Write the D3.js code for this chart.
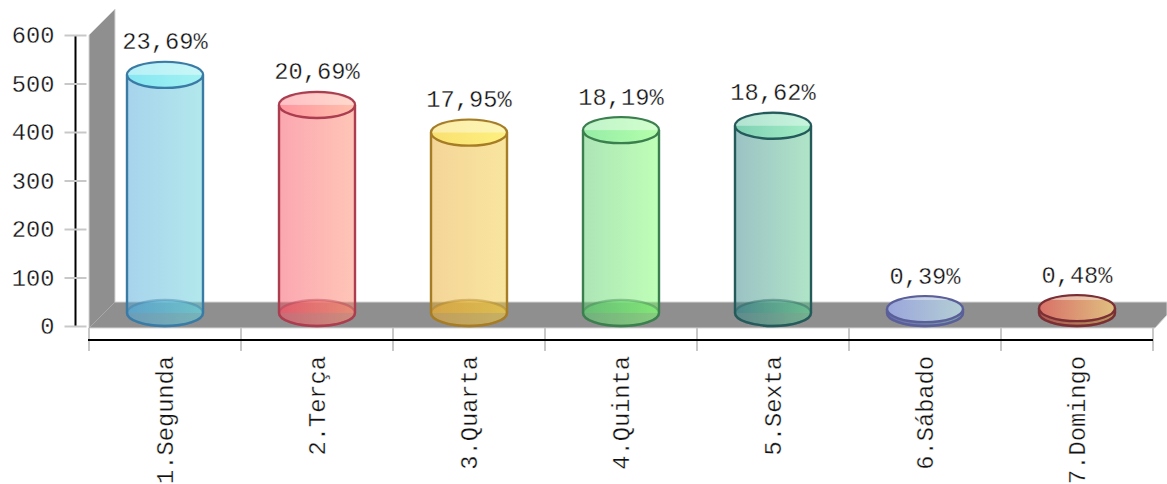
<!DOCTYPE html>
<html><head><meta charset="utf-8">
<script src="https://cdn.jsdelivr.net/npm/d3@7"></script>
<style>html,body{margin:0;padding:0;background:#fff}svg{display:block}
text{font-family:"Liberation Mono",monospace;font-size:23.7px;fill:#111;stroke:#fff;stroke-width:.3px;paint-order:fill stroke}</style></head>
<body><svg id="c" width="1167" height="484"></svg>
<script>
const categories=["1.Segunda","2.Terça","3.Quarta","4.Quinta","5.Sexta","6.Sábado","7.Domingo"];
const values=[491,429,372,377,386,8,10];
const percentLabels=["23,69%","20,69%","17,95%","18,19%","18,62%","0,39%","0,48%"];
const yTicks=[0,100,200,300,400,500,600];
const strokes=["#3a7ba6","#ab3d4f","#a67c25","#3c7f4f","#255a5a","#5a5f9a","#7a2f35"];
const leftColors=["#50a8da","#f74f63","#e9ab33","#5ccb6f","#38858a","#4a55c8","#c82a20"];
const rightColors=["#66d1d9","#ff8c6f","#f3cb3f","#7fff70","#62cb90","#70b0b0","#d8a030"];
const topLeft=["#85e6f2","#ff959f","#f9e070","#95eca6","#7ed0b4","#9aa5dc","#d87068"];
const topRight=["#a4f2f2","#ffc0ac","#fdf080","#b4ffac","#a4eec6","#b4cfd4","#e0c080"];

const svg=d3.select("#c"),defs=svg.append("defs");
const x=d3.scaleBand().domain(categories).range([89,1153]);
const y=d3.scaleLinear().domain([0,600]).range([326,35]);
const depth=26,ry=13,rx=x.step()*0.25;

const wallX=x.range()[0],floorTop=y(0)-24,floorBot=y(0)+2,edge=x.range()[1];
svg.append("path").attr("d",`M${wallX},${y(600)}L${wallX+depth},${y(600)-depth}V${floorTop}H1167V${floorBot-13}L${edge+2},${floorBot}H${wallX}Z`)
  .attr("fill","#8f8f8f").attr("stroke","#d4d4d4").attr("stroke-width",1);
svg.append("line").attr("x1",wallX).attr("y1",floorBot).attr("x2",wallX+depth).attr("y2",floorTop).attr("stroke","#a8a8a8");

const yAxis=svg.append("g").attr("transform","translate(75.5,0)")
  .call(d3.axisLeft(y).tickValues(yTicks).tickSize(11).tickPadding(10).tickFormat(d3.format("d")));
yAxis.select(".domain").attr("stroke","#000").attr("stroke-width",2).attr("d",`M0,${y(600)}V${y(0)}`);
yAxis.selectAll(".tick line").attr("x1",11).attr("stroke","#c8c8c8").attr("stroke-width",2);
yAxis.selectAll(".tick text").attr("dy","0.32em").attr("fill","#111");
yAxis.lower();

const xAxis=svg.append("g").attr("transform","translate(0,340)")
  .call(d3.axisBottom(x).tickSize(0).tickPadding(0));
xAxis.select(".domain").attr("stroke","#000").attr("stroke-width",2).attr("d",`M${x.range()[0]-1},0H${x.range()[1]}`);
xAxis.selectAll(".tick text").attr("transform","translate(0,16) rotate(-90)").attr("text-anchor","end").attr("x",0).attr("y",0).attr("dy","0.32em").attr("fill","#111");
svg.append("g").selectAll("line").data(d3.range(categories.length+1)).join("line")
  .attr("x1",i=>x.range()[0]+i*x.step()).attr("x2",i=>x.range()[0]+i*x.step())
  .attr("y1",floorBot).attr("y2",351).attr("stroke","#c8c8c8").attr("stroke-width",2);
xAxis.raise();

function grad(id,a,b){const g=defs.append("linearGradient").attr("id",id);
  g.append("stop").attr("offset","0%").attr("stop-color",a);
  g.append("stop").attr("offset","100%").attr("stop-color",b);}
categories.forEach((c,i)=>{grad("b"+i,leftColors[i],rightColors[i]);grad("t"+i,topLeft[i],topRight[i]);
  defs.append("clipPath").attr("id","h"+i).append("ellipse").attr("cy",y(values[i])-ry).attr("rx",rx-1).attr("ry",ry-1);
});

const bars=svg.append("g").selectAll("g").data(categories).join("g")
  .attr("transform",c=>`translate(${x(c)+x.bandwidth()/2},0)`);
const base=y(0)-ry;
bars.append("path")
  .attr("d",(c,i)=>{const t=y(values[i])-ry;return `M${-rx},${t}V${base}H${rx}V${t}A${rx},${ry} 0 0 0 ${-rx},${t}Z`;})
  .attr("fill",(c,i)=>`url(#b${i})`).attr("fill-opacity",.5);
bars.append("ellipse").attr("cy",base).attr("rx",rx).attr("ry",ry)
  .attr("fill",(c,i)=>`url(#b${i})`).attr("fill-opacity",.55).attr("stroke",(c,i)=>strokes[i]).attr("stroke-opacity",.4).attr("stroke-width",2.4);
bars.append("path")
  .attr("d",(c,i)=>{const t=y(values[i])-ry;return `M${-rx},${t}V${base}A${rx},${ry} 0 0 0 ${rx},${base}V${t}`;})
  .attr("fill","none").attr("stroke",(c,i)=>strokes[i]).attr("stroke-width",2.4);
bars.append("ellipse").attr("cy",(c,i)=>y(values[i])-ry).attr("rx",rx).attr("ry",ry)
  .attr("fill",(c,i)=>`url(#t${i})`).attr("stroke",(c,i)=>strokes[i]).attr("stroke-width",2.4);
bars.append("rect").attr("x",-rx).attr("width",2*rx)
  .attr("y",(c,i)=>y(values[i])-2*ry)
  .attr("height",(c,i)=>Math.min(ry,y(0)-y(values[i])))
  .attr("clip-path",(c,i)=>`url(#h${i})`)
  .attr("fill","#fff").attr("fill-opacity",.4);
bars.append("text").attr("text-anchor","middle").attr("y",(c,i)=>y(values[i])-ry-25.5)
  .text((c,i)=>percentLabels[i]);
</script></body></html>
